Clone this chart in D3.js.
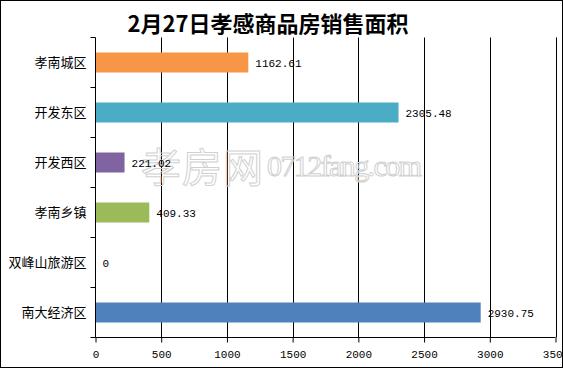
<!DOCTYPE html>
<html><head><meta charset="utf-8">
<script src="https://cdn.jsdelivr.net/npm/d3@7"></script>
<style>html,body{margin:0;padding:0;background:#fff;}svg{display:block;}</style>
</head><body>
<script>
const title = "2月27日孝感商品房销售面积";
const categories = ["孝南城区","开发东区","开发西区","孝南乡镇","双峰山旅游区","南大经济区"];
const values = [1162.61, 2305.48, 221.02, 409.33, 0, 2930.75];
const valueLabels = ["1162.61","2305.48","221.02","409.33","0","2930.75"];
const colors = ["#F79646","#4BACC6","#8064A2","#9BBB59","#4F81BD","#4F81BD"];
const xTicks = [0,500,1000,1500,2000,2500,3000,3500];

const W = 563, H = 368;
const svg = d3.select("body").append("svg").attr("width", W).attr("height", H);
svg.append("rect").attr("x",0).attr("y",0).attr("width",W).attr("height",H).attr("fill","#fff");

const x = d3.scaleLinear().domain([0,3500]).range([95.5,555.5]);
const y = d3.scaleBand().domain(categories).range([37.5,337.5]).paddingInner(0.6).paddingOuter(0.3);

// gridlines
svg.append("g").selectAll("line").data(xTicks.slice(1)).join("line")
  .attr("x1", d=>Math.round(x(d))+0.5).attr("x2", d=>Math.round(x(d))+0.5)
  .attr("y1", 37.5).attr("y2", 337.5).attr("stroke","#000").attr("stroke-width",1);

// watermark
const wm = svg.append("g").attr("fill","none").attr("stroke","#d0d0d0").attr("stroke-width",1);
wm.append("text").attr("x",141).attr("y",182).attr("font-family","Noto Sans CJK SC").attr("font-size",40).attr("letter-spacing",1).text("孝房网");
wm.append("text").attr("x",267).attr("y",176).attr("font-family","Liberation Serif").attr("font-size",30).attr("textLength",155).text("0712fang.com");

// bars
svg.append("g").selectAll("rect").data(values).join("rect")
  .attr("x", x(0)).attr("y", (d,i)=>y(categories[i]))
  .attr("width", d=>x(d)-x(0)).attr("height", y.bandwidth())
  .attr("fill", (d,i)=>colors[i]);

// value labels
svg.append("g").selectAll("text").data(values).join("text")
  .attr("x", d=>x(d)+7).attr("y", (d,i)=>y(categories[i])+y.bandwidth()/2+4)
  .attr("font-family","Liberation Mono, DejaVu Sans Mono, monospace").attr("font-size",11)
  .attr("fill","#000").text((d,i)=>valueLabels[i]);

// x axis
const xAxis = d3.axisBottom(x).tickValues(xTicks).tickSize(5).tickPadding(8).tickFormat(d3.format("d"));
const gx = svg.append("g").attr("transform","translate(0,337.5)").call(xAxis);
gx.select(".domain").attr("d","M95.5,0H555.5").attr("stroke","#000");
gx.selectAll(".tick line").attr("stroke","#000");
gx.selectAll(".tick text").attr("font-family","Liberation Mono, DejaVu Sans Mono, monospace").attr("font-size",11).attr("fill","#000");

// y axis
const yAxis = d3.axisLeft(y).tickSize(0).tickPadding(9);
const gy = svg.append("g").attr("transform","translate(95.5,0)").call(yAxis);
gy.select(".domain").attr("d","M0,37.5V337.5").attr("stroke","#000");
gy.selectAll(".tick text").attr("font-family","Noto Sans CJK SC").attr("font-size",13).attr("fill","#000");
// category boundary ticks
const bounds = d3.range(categories.length+1).map(i=>37.5+i*y.step());
gy.append("g").selectAll("line").data(bounds).join("line")
  .attr("x1",-5).attr("x2",0).attr("y1",d=>d).attr("y2",d=>d).attr("stroke","#000");

// title
svg.append("text").attr("x",268).attr("y",32).attr("text-anchor","middle")
  .attr("font-family","Noto Sans CJK SC").attr("font-weight","bold").attr("font-size",22).attr("fill","#000").text(title);

// border
svg.append("rect").attr("x",0.5).attr("y",0.5).attr("width",W-1).attr("height",H-1).attr("fill","none").attr("stroke","#000");
</script>
</body></html>
